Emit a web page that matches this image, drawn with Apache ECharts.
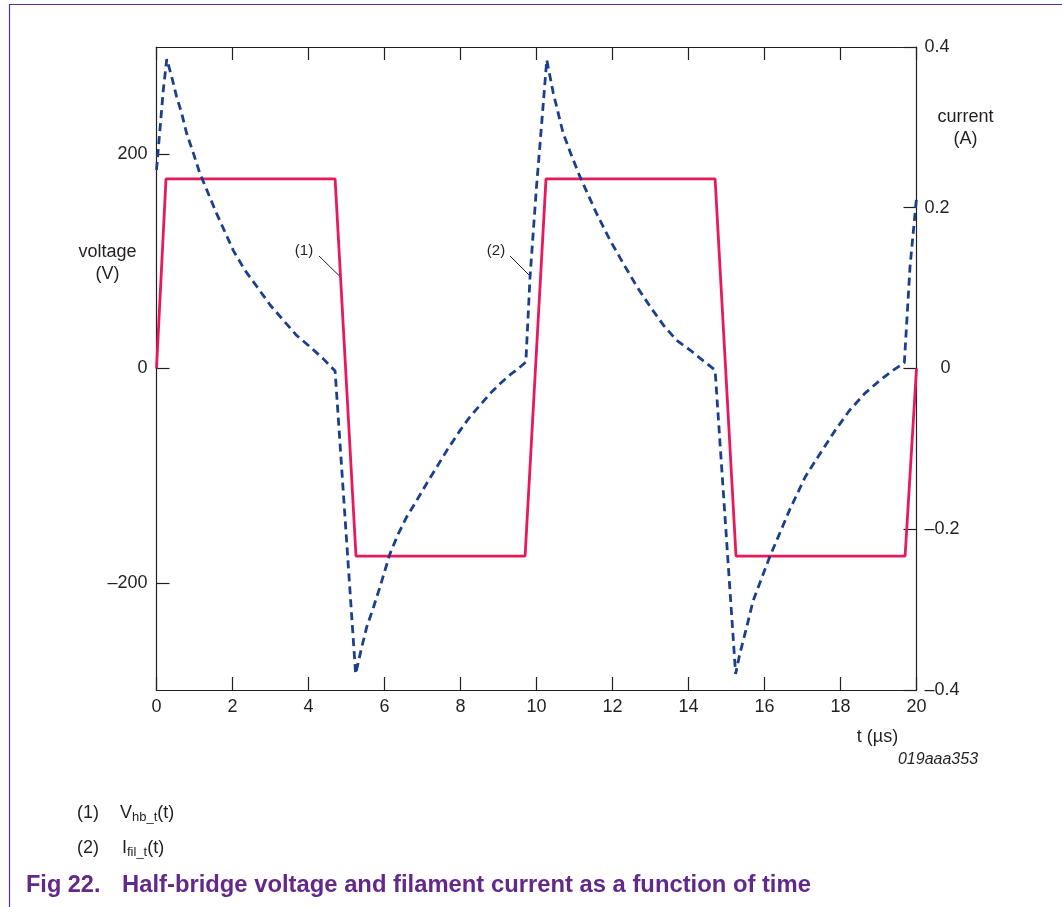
<!DOCTYPE html>
<html>
<head>
<meta charset="utf-8">
<script src="https://cdn.jsdelivr.net/npm/echarts@6/dist/echarts.min.js"></script>
<style>
  html, body { margin: 0; padding: 0; background: #fff; }
  #chart { width: 1062px; height: 907px; }
</style>
</head>
<body>
<div id="chart"></div>
<script>
// time axis (µs)
var timeTicks = [0, 2, 4, 6, 8, 10, 12, 14, 16, 18, 20];
var voltTicks = [-200, 0, 200];
var currTicks = [-0.4, -0.2, 0, 0.2, 0.4];

// (1) half-bridge voltage V_hb_t(t), volts
var tVolt = [0, 0.25, 4.7, 5.25, 9.7, 10.25, 14.7, 15.25, 19.7, 20];
var volt = [0, 177, 177, -175, -175, 177, 177, -175, -175, 0];

// (2) filament current I_fil_t(t), amps
var tCurr = [0, 0.18, 0.27, 0.40, 0.53, 0.66, 0.79, 0.97, 1.14, 1.36, 1.58, 1.80, 2.02, 2.33,
  2.64, 2.99, 3.34, 3.69, 4.04, 4.39, 4.70,
  5.24, 5.40, 5.53, 5.71, 5.88, 6.14, 6.36, 6.58, 6.85, 7.11, 7.37, 7.64, 7.99, 8.25,
  8.51, 8.78, 9.04, 9.30, 9.52, 9.72,
  9.83, 10.0, 10.13, 10.27, 10.44, 10.70, 10.93, 11.14, 11.58, 11.93, 12.28, 12.64,
  12.99, 13.34, 13.69, 14.04, 14.30, 14.70,
  15.24, 15.35, 15.53, 15.70, 16.14, 16.67, 17.07, 17.46, 17.86, 18.24, 18.64, 19.03,
  19.39, 19.68, 19.83, 20];
var curr = [0.247, 0.347, 0.385, 0.363, 0.338, 0.318, 0.293, 0.268, 0.243, 0.218, 0.193, 0.170, 0.147, 0.122,
  0.102, 0.079, 0.060, 0.041, 0.027, 0.012, -0.003,
  -0.380, -0.347, -0.322, -0.297, -0.272, -0.231, -0.206, -0.185, -0.164, -0.143, -0.123, -0.102, -0.077, -0.060,
  -0.046, -0.031, -0.019, -0.008, 0.000, 0.008,
  0.114, 0.226, 0.301, 0.384, 0.343, 0.293, 0.264, 0.239, 0.193, 0.160, 0.131, 0.102,
  0.077, 0.054, 0.035, 0.023, 0.013, -0.002,
  -0.380, -0.355, -0.322, -0.289, -0.234, -0.175, -0.135, -0.106, -0.077, -0.052, -0.031, -0.015,
  -0.002, 0.007, 0.127, 0.212];

function pairs(xs, ys) {
  var out = [];
  for (var i = 0; i < xs.length; i++) out.push([xs[i], ys[i]]);
  return out;
}
function dash(v) {
  return v < 0 ? '\u2013' + String(-v) : String(v);
}

var FONT = '"Liberation Sans", Arial, Helvetica, sans-serif';
var INK = '#231f20';
var PURPLE = '#62298a';

var axisLine = { show: true, onZero: false, lineStyle: { color: INK, width: 1.2 } };
var tick = { show: true, inside: true, length: 13, lineStyle: { color: INK, width: 1.2 } };

var myChart = echarts.init(document.getElementById('chart'));
var option = {
  animation: false,
  backgroundColor: '#fff',
  textStyle: { fontFamily: FONT },
  grid: { left: 156.5, right: 145.5, top: 47, bottom: 217, containLabel: false, outerBoundsMode: 'none' },
  xAxis: [
    {
      type: 'value', position: 'bottom', min: 0, max: 20, interval: 2,
      axisLine: axisLine, axisTick: tick, splitLine: { show: false },
      axisLabel: { color: INK, fontSize: 18, fontFamily: FONT, margin: 8,
        customValues: timeTicks }
    },
    {
      type: 'value', position: 'top', min: 0, max: 20, interval: 2,
      axisLine: axisLine, axisTick: tick, splitLine: { show: false },
      axisLabel: { show: false }
    }
  ],
  yAxis: [
    {
      type: 'value', position: 'left', min: -300, max: 300,
      axisLine: axisLine, splitLine: { show: false },
      axisTick: Object.assign({ customValues: voltTicks }, tick),
      axisLabel: { color: INK, fontSize: 18, fontFamily: FONT, margin: 9,
        customValues: voltTicks, formatter: function (v) { return dash(v); } }
    },
    {
      type: 'value', position: 'right', min: -0.4, max: 0.4, interval: 0.2,
      axisLine: axisLine, splitLine: { show: false }, axisTick: tick,
      axisLabel: { color: INK, fontSize: 18, fontFamily: FONT, margin: 8,
        customValues: currTicks,
        formatter: function (v) {
          var r = Math.round(v * 10) / 10;
          if (r === 0) return '{z|0}';
          return r < 0 ? '\u2013' + (-r).toFixed(1) : r.toFixed(1);
        },
        rich: { z: { fontSize: 18, fontFamily: FONT, color: INK, padding: [0, 0, 0, 16] } }
      }
    }
  ],
  series: [
    {
      name: 'Vhb_t', type: 'line', xAxisIndex: 0, yAxisIndex: 0,
      data: pairs(tVolt, volt), symbol: 'none', smooth: false, z: 3,
      lineStyle: { color: '#e8185b', width: 2.8 }
    },
    {
      name: 'Ifil_t', type: 'line', xAxisIndex: 0, yAxisIndex: 1,
      data: pairs(tCurr, curr), symbol: 'none', smooth: false, z: 4,
      lineStyle: { color: '#1b3f8c', width: 2.8, type: [8, 5] }
    }
  ],
  graphic: [
    { type: 'polyline', silent: true,
      shape: { points: [[9.5, 907], [9.5, 4.5], [1062, 4.5]] },
      style: { stroke: PURPLE, lineWidth: 1.2, fill: null } },
    { type: 'text', style: { text: 'voltage\n(V)', x: 107.5, y: 263, textAlign: 'center', textVerticalAlign: 'middle',
      font: '18px ' + FONT, fill: INK, lineHeight: 22 } },
    { type: 'text', style: { text: 'current\n(A)', x: 965.5, y: 128, textAlign: 'center', textVerticalAlign: 'middle',
      font: '18px ' + FONT, fill: INK, lineHeight: 22 } },
    { type: 'text', style: { text: 't (\u00b5s)', x: 877.5, y: 737, textAlign: 'center', textVerticalAlign: 'middle',
      font: '18px ' + FONT, fill: INK } },
    { type: 'text', style: { text: '019aaa353', x: 938, y: 760, textAlign: 'center', textVerticalAlign: 'middle',
      font: 'italic 16px ' + FONT, fill: INK } },
    { type: 'text', style: { text: '(1)', x: 304, y: 250.5, textAlign: 'center', textVerticalAlign: 'middle',
      font: '15px ' + FONT, fill: INK } },
    { type: 'line', silent: true, shape: { x1: 319, y1: 256, x2: 341, y2: 277.5 },
      style: { stroke: INK, lineWidth: 1 } },
    { type: 'text', style: { text: '(2)', x: 496, y: 250.5, textAlign: 'center', textVerticalAlign: 'middle',
      font: '15px ' + FONT, fill: INK } },
    { type: 'line', silent: true, shape: { x1: 510, y1: 256, x2: 531, y2: 277 },
      style: { stroke: INK, lineWidth: 1 } },
    { type: 'text', style: { text: '(1)', x: 77, y: 813, textVerticalAlign: 'middle',
      font: '18px ' + FONT, fill: INK } },
    { type: 'text', style: { text: '{n|V}{s|hb_t}{n|(t)}', x: 120, y: 813, textVerticalAlign: 'middle',
      font: '18px ' + FONT, fill: INK,
      rich: { n: { fontSize: 18, fontFamily: FONT, color: INK },
              s: { fontSize: 13, fontFamily: FONT, color: INK, padding: [9, 0, 0, 0] } } } },
    { type: 'text', style: { text: '(2)', x: 77, y: 848, textVerticalAlign: 'middle',
      font: '18px ' + FONT, fill: INK } },
    { type: 'text', style: { text: '{n|I}{s|fil_t}{n|(t)}', x: 122, y: 848, textVerticalAlign: 'middle',
      font: '18px ' + FONT, fill: INK,
      rich: { n: { fontSize: 18, fontFamily: FONT, color: INK },
              s: { fontSize: 13, fontFamily: FONT, color: INK, padding: [9, 0, 0, 0] } } } },
    { type: 'text', style: { text: 'Fig 22.', x: 26, y: 885.5, textVerticalAlign: 'middle',
      font: 'bold 23.5px ' + FONT, fill: PURPLE } },
    { type: 'text', style: { text: 'Half-bridge voltage and filament current as a function of time', x: 122, y: 885.5,
      textVerticalAlign: 'middle', font: 'bold 23.8px ' + FONT, fill: PURPLE } }
  ]
};
myChart.setOption(option);
window.onresize = myChart.resize;
</script>
</body>
</html>
